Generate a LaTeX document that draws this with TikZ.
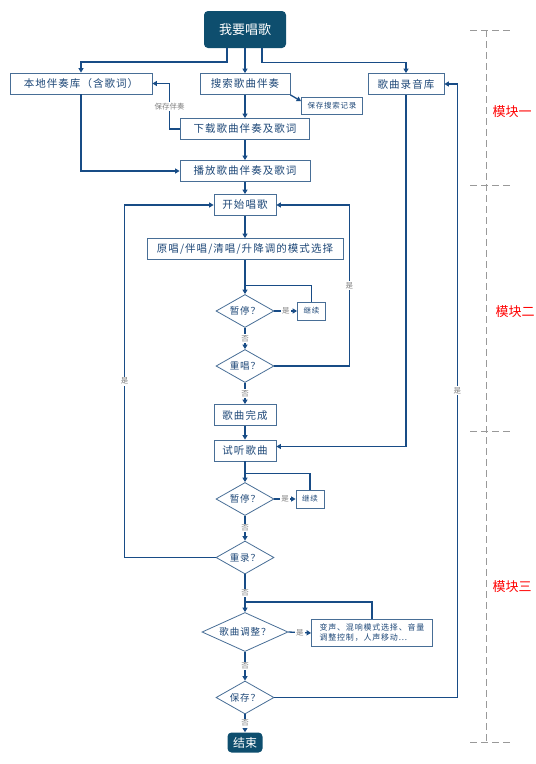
\documentclass[tikz,border=0pt]{standalone}
\usepackage{fontspec}
\setmainfont{Noto Sans CJK SC}
\newfontfamily\spacedfont{Noto Sans CJK SC}[LetterSpace=10]
\usetikzlibrary{arrows.meta, shapes.geometric}
\definecolor{flowBlue}{RGB}{24, 76, 134}
\definecolor{flowEdge}{RGB}{72, 110, 150}
\definecolor{flowText}{RGB}{30, 72, 120}
\definecolor{flowDark}{RGB}{14, 78, 110}
\definecolor{flowGray}{RGB}{128, 128, 128}

\begin{document}
\begin{tikzpicture}[
        x=1pt,
        y=-1pt,
        box/.style={draw=flowEdge, line width=0.8pt, fill=white, text=flowText, font=\spacedfont\fontsize{10.5}{12}\selectfont, minimum height=21pt, inner sep=2pt},
        smallbox/.style={box, font=\spacedfont\fontsize{7.5}{9}\selectfont, minimum height=17pt},
        term/.style={rounded corners=4pt, fill=flowDark, text=white, font=\fontsize{13}{15}\selectfont, minimum width=82pt, minimum height=37pt},
        decide/.style={diamond, aspect=1.8, draw=flowEdge, line width=0.8pt, fill=white, text=flowText, font=\spacedfont\fontsize{9.5}{11}\selectfont, minimum width=58pt, minimum height=33pt, inner sep=0pt},
        arr/.style={-{Triangle[length=4.5pt,width=5pt]}, draw=flowBlue, line width=1.3pt},
        link/.style={draw=flowBlue, line width=1.3pt},
        lbl/.style={fill=white, text=flowGray, font=\fontsize{7.5}{8}\selectfont, inner sep=1pt},
        module/.style={draw=flowGray!80, line width=1pt, dash pattern=on 7pt off 4pt},
        modtext/.style={text=red, font=\fontsize{13}{15}\selectfont}
    ]
        \useasboundingbox (0,0) rectangle (536,764);

        \node[term] (start) at (245,29.5) {我要唱歌};
        \node[box, minimum width=142pt] (local) at (81,83.5) {本地伴奏库（含歌词）};
        \node[box, minimum width=90pt] (search) at (245,84) {搜索歌曲伴奏};
        \node[box, minimum width=76pt] (rec) at (406,84) {歌曲录音库};
        \node[smallbox, minimum width=61pt] (savesearch) at (332,106) {保存搜索记录};
        \node[box, minimum width=129pt] (download) at (245,129) {下载歌曲伴奏及歌词};
        \node[box, minimum width=130pt] (play) at (245,171) {播放歌曲伴奏及歌词};
        \node[box, minimum width=62pt] (sing) at (245,205) {开始唱歌};
        \node[box, minimum width=196pt] (mode) at (245,249) {原唱/伴唱/清唱/升降调的模式选择};
        \node[decide] (pause1) at (245,311) {暂停？};
        \node[smallbox, minimum width=28pt, minimum height=18pt] (cont1) at (311.5,311) {继续};
        \node[decide] (resing) at (245,366) {重唱？};
        \node[box, minimum width=62pt] (done) at (245,415) {歌曲完成};
        \node[box, minimum width=62pt] (listen) at (245,450.5) {试听歌曲};
        \node[decide] (pause2) at (245,499) {暂停？};
        \node[smallbox, minimum width=28pt, minimum height=18pt] (cont2) at (310,499) {继续};
        \node[decide] (rerec) at (245,557.5) {重录？};
        \node[decide, aspect=2.2, minimum width=86pt, minimum height=39pt] (adjust) at (245,632) {歌曲调整？};
        \node[smallbox, minimum width=121pt, minimum height=27pt, align=left, font=\spacedfont\fontsize{8}{10}\selectfont] (effects) at (372,633) {变声、混响模式选择、音量\\调整控制，人声移动...};
        \node[decide] (save) at (245,697.5) {保存？};
        \node[term, minimum width=35pt, minimum height=20pt, font=\fontsize{12}{14}\selectfont] (finish) at (245,742.5) {结束};

        \draw[arr] ([xshift=-18pt]start.south) |- ([yshift=10.5pt]local.north) -- (local.north);
        \draw[arr] (start.south) -- (search.north);
        \draw[arr] ([xshift=17pt]start.south) |- ([yshift=10.5pt]rec.north) -- (rec.north);
        \draw[arr] (search.south east) -- ([yshift=-4pt]savesearch.north west);
        \draw[arr] (search.south) -- (download.north);
        \draw[arr] (download.west) -- ++(-10.5,0) |- node[lbl, pos=0.25] {保存伴奏} (local.east);
        \draw[arr] (local.south) |- (play.west);
        \draw[arr] (download.south) -- (play.north);
        \draw[arr] (play.south) -- (sing.north);
        \draw[arr] (sing.south) -- (mode.north);
        \draw[arr] (mode.south) -- (pause1.north);
        \draw[arr] (pause1.east) -- node[lbl] {是} (cont1.west);
        \draw[link] (cont1.north) |- ([yshift=8.5pt]pause1.north);
        \draw[arr] (pause1.south) -- node[lbl] {否} (resing.north);
        \draw[arr] (resing.east) -- ++(75,0) |- node[lbl, pos=0.25] {是} (sing.east);
        \draw[arr] (resing.south) -- node[lbl] {否} (done.north);
        \draw[arr] (done.south) -- (listen.north);
        \draw[arr] (rec.south) |- ([yshift=4pt]listen.east);
        \draw[arr] (listen.south) -- (pause2.north);
        \draw[arr] (pause2.east) -- node[lbl] {是} (cont2.west);
        \draw[link] (cont2.north) |- ([yshift=8.5pt]pause2.north);
        \draw[arr] (pause2.south) -- node[lbl] {否} (rerec.north);
        \draw[arr] (rerec.west) -- ++(-91,0) |- node[lbl, pos=0.25] {是} (sing.west);
        \draw[arr] (rerec.south) -- node[lbl] {否} (adjust.north);
        \draw[arr] (adjust.east) -- node[lbl] {是} (effects.west);
        \draw[link] (effects.north) |- ([yshift=10pt]adjust.north);
        \draw[arr] (adjust.south) -- node[lbl] {否} (save.north);
        \draw[arr] (save.east) -- ++(183,0) |- node[lbl, pos=0.25] {是} (rec.east);
        \draw[arr] (save.south) -- node[lbl] {否} (finish.north);

        \draw[module] (486.7,30) -- (486.7,742.7);
        \foreach \y in {30,185,431.7,742.7} {
            \draw[module] (470,\y) -- (510,\y);
        }
        \node[modtext] (modone) at (512,112) {模块一};
        \node[modtext] (modtwo) at (515,312) {模块二};
        \node[modtext] (modthree) at (512,587) {模块三};
    \end{tikzpicture}
\end{document}
